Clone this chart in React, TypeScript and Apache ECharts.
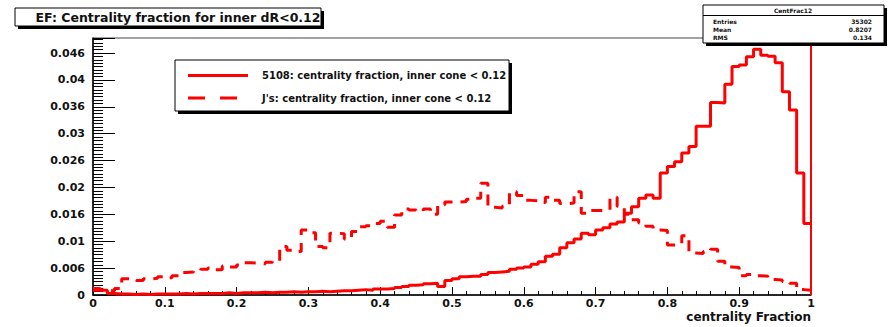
import React, { useEffect, useRef } from "react";
import * as echarts from "echarts";

// ---- data ----
const binWidth = 0.01;
const solidName = "5108: centrality fraction, inner cone < 0.12";
const dashedName = "J's: centrality fraction, inner cone < 0.12";
const titleText = "EF: Centrality fraction for inner dR<0.12";
const xAxisTitle = "centrality Fraction";
const xTickLabels = ["0", "0.1", "0.2", "0.3", "0.4", "0.5", "0.6", "0.7", "0.8", "0.9", "1"];
const yTickLabels = ["0", "0.006", "0.01", "0.016", "0.02", "0.026", "0.03", "0.036", "0.04", "0.046"];
const statsTitle = "CentFrac12";
const statsLabels = ["Entries", "Mean", "RMS"];
const statsValues = ["35302", "0.8207", "0.134"];

const solidBins = [
  0.0012, 0.0009, 0.0003, 0.0002, 0.0002, 0.0001, 0.0002, 0.0001, 0.0002, 0.0002,
  0.0002, 0.0002, 0.0003, 0.0002, 0.0003, 0.0003, 0.0003, 0.0003, 0.0004, 0.0003,
  0.0004, 0.0004, 0.0004, 0.0005, 0.0004, 0.0005, 0.0005, 0.0006, 0.0005, 0.0006,
  0.0006, 0.0007, 0.0006, 0.0007, 0.0008, 0.0008, 0.0009, 0.0010, 0.0009, 0.0011,
  0.0011, 0.0012, 0.0014, 0.0016, 0.0018, 0.0019, 0.0021, 0.0022, 0.0016, 0.0027,
  0.0030, 0.0034, 0.0035, 0.0035, 0.0038, 0.0042, 0.0043, 0.0044, 0.0048, 0.0050,
  0.0052, 0.0057, 0.0062, 0.0072, 0.0076, 0.0088, 0.0097, 0.0104, 0.0115, 0.0112,
  0.0121, 0.0125, 0.0132, 0.0136, 0.0152, 0.0164, 0.0180, 0.0186, 0.0180, 0.0227,
  0.0239, 0.0248, 0.0264, 0.0276, 0.0314, 0.0314, 0.0358, 0.0357, 0.0392, 0.0425,
  0.0428, 0.0443, 0.0457, 0.0446, 0.0444, 0.0432, 0.0378, 0.0344, 0.0227, 0.0133,
];

const dashedBins = [
  0.0009, 0.0010, 0.0008, 0.0012, 0.0030, 0.0029, 0.0027, 0.0030, 0.0031, 0.0034,
  0.0032, 0.0036, 0.0042, 0.0043, 0.0045, 0.0048, 0.0050, 0.0047, 0.0054, 0.0052,
  0.0056, 0.0060, 0.0059, 0.0058, 0.0061, 0.0063, 0.0090, 0.0083, 0.0081, 0.0121,
  0.0116, 0.0090, 0.0088, 0.0115, 0.0114, 0.0104, 0.0118, 0.0127, 0.0129, 0.0133,
  0.0137, 0.0126, 0.0149, 0.0160, 0.0158, 0.0156, 0.0160, 0.0150, 0.0168, 0.0173,
  0.0173, 0.0174, 0.0178, 0.0180, 0.0208, 0.0163, 0.0162, 0.0165, 0.0192, 0.0185,
  0.0176, 0.0175, 0.0172, 0.0182, 0.0176, 0.0170, 0.0171, 0.0192, 0.0152, 0.0157,
  0.0157, 0.0158, 0.0182, 0.0165, 0.0150, 0.0140, 0.0134, 0.0128, 0.0121, 0.0120,
  0.0093, 0.0094, 0.0110, 0.0078, 0.0077, 0.0081, 0.0085, 0.0063, 0.0052, 0.0051,
  0.0036, 0.0038, 0.0036, 0.0035, 0.0029, 0.0028, 0.0025, 0.0022, 0.0010, 0.0009,
];

const toSteps = (vals: number[]) => {
  const pts: number[][] = vals.map((v, i) => [Number((i * binWidth).toFixed(4)), v]);
  pts.push([Number((vals.length * binWidth).toFixed(4)), vals[vals.length - 1]]);
  return pts;
};

const FONT = '"DejaVu Sans", "Liberation Sans", sans-serif';
const RED = "#ff0000";

function txt(text: string, x: number, y: number, size: number, align = "left", weight = "bold") {
  return {
    type: "text",
    z: 100,
    style: {
      text,
      x,
      y,
      fill: "#111",
      font: `${weight} ${size}px ${FONT}`,
      align,
      textAlign: align,
      verticalAlign: "middle",
      textVerticalAlign: "middle",
    },
  };
}

function boxWithShadow(x: number, y: number, w: number, h: number, off = 3) {
  return [
    { type: "rect", z: 99, shape: { x: x + off, y: y + off, width: w, height: h }, style: { fill: "#000" } },
    { type: "rect", z: 99, shape: { x, y, width: w, height: h }, style: { fill: "#fff", stroke: "#000", lineWidth: 1 } },
  ];
}

export default function App() {
  const ref = useRef<HTMLDivElement>(null);
  useEffect(() => {
    if (!ref.current) return;
    const chart = echarts.init(ref.current, null, { renderer: "svg" });
    const yInterval = 0.005;
    const graphic: any[] = [
      ...boxWithShadow(15, 8, 306, 18),
      txt(titleText, 178, 17, 12.5, "center"),
      ...boxWithShadow(175, 60, 334, 51),
      { type: "line", z: 100, shape: { x1: 188, y1: 75.5, x2: 248, y2: 75.5 }, style: { stroke: RED, lineWidth: 3 } },
      txt(solidName, 262, 75.5, 10),
      { type: "line", z: 100, shape: { x1: 188, y1: 98, x2: 248, y2: 98 }, style: { stroke: RED, lineWidth: 3, lineDash: [17, 15] } },
      txt(dashedName, 262, 98, 10),
      ...boxWithShadow(703, 5, 181, 38),
      { type: "line", z: 100, shape: { x1: 703, y1: 15.5, x2: 884, y2: 15.5 }, style: { stroke: "#000", lineWidth: 1 } },
      txt(statsTitle, 793, 10.5, 6, "center"),
      ...statsLabels.map((l, i) => txt(l, 713, 21 + i * 8.3, 6)),
      ...statsValues.map((v, i) => txt(v, 872, 21 + i * 8.3, 6, "right")),
    ];
    chart.setOption({
      animation: false,
      backgroundColor: "#fff",
      grid: {
        left: 93,
        right: 80,
        top: 38,
        bottom: 32,
        show: true,
        borderColor: "#444",
        borderWidth: 1,
        backgroundColor: "transparent",
      },
      xAxis: {
        type: "value",
        min: 0,
        max: 1,
        interval: 0.1,
        name: xAxisTitle,
        nameLocation: "end",
        nameGap: 0,
        nameTextStyle: {
          align: "right",
          verticalAlign: "top",
          padding: [16, 0, 0, 0],
          fontFamily: FONT,
          fontWeight: "bold",
          fontSize: 12,
          color: "#111",
        },
        axisLine: { show: true, onZero: false, lineStyle: { color: "#000", width: 1.5 } },
        axisTick: { show: true, inside: true, length: 8, lineStyle: { color: "#000", width: 1 } },
        minorTick: { show: true, splitNumber: 5, length: 4, lineStyle: { color: "#000", width: 1 } },
        splitLine: { show: false },
        axisLabel: {
          margin: 3,
          fontFamily: FONT,
          fontWeight: "bold",
          fontSize: 11,
          color: "#111",
          formatter: (v: number) => {
            const i = Math.round(v / 0.1);
            return Math.abs(v - i * 0.1) < 1e-9 ? xTickLabels[i] ?? "" : "";
          },
        },
      },
      yAxis: {
        type: "value",
        min: 0,
        max: 0.0478,
        interval: yInterval,
        axisLine: { show: true, onZero: false, lineStyle: { color: "#000", width: 1.5 } },
        axisTick: { show: true, inside: true, length: 22, lineStyle: { color: "#000", width: 1 } },
        minorTick: { show: true, splitNumber: 8, length: 10, lineStyle: { color: "#000", width: 1 } },
        splitLine: { show: false },
        axisLabel: {
          margin: 8,
          fontFamily: FONT,
          fontWeight: "bold",
          fontSize: 11,
          color: "#111",
          formatter: (v: number) => {
            const i = Math.round(v / yInterval);
            return Math.abs(v - i * yInterval) < 1e-9 ? yTickLabels[i] ?? "" : "";
          },
        },
      },
      series: [
        {
          name: solidName,
          type: "line",
          step: "end",
          showSymbol: false,
          symbol: "none",
          data: toSteps(solidBins),
          lineStyle: { color: RED, width: 3, type: "solid" },
          markLine: {
            silent: true,
            symbol: ["none", "none"],
            label: { show: false },
            lineStyle: { color: RED, width: 2, type: "solid" },
            data: [{ xAxis: 0.997 }],
          },
          z: 3,
        },
        {
          name: dashedName,
          type: "line",
          step: "end",
          showSymbol: false,
          symbol: "none",
          data: toSteps(dashedBins),
          lineStyle: { color: RED, width: 3, type: [11, 8] },
          z: 2,
        },
      ],
      graphic,
    });
    return () => chart.dispose();
  }, []);
  return (
    <div
      ref={ref}
      style={{ position: "fixed", left: 0, top: 0, width: 891, height: 327, background: "#fff" }}
    />
  );
}
